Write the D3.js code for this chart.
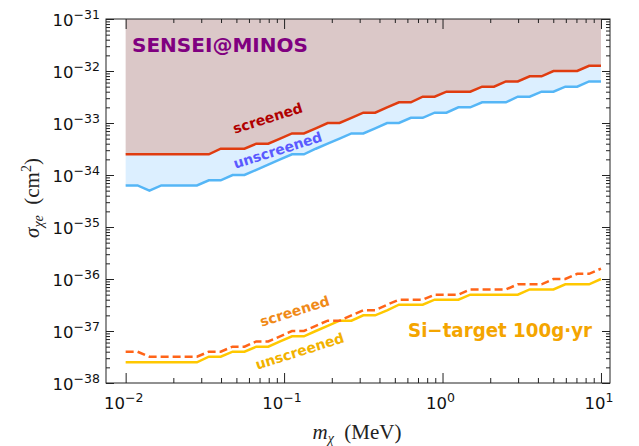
<!DOCTYPE html>
<html>
<head>
<meta charset="utf-8">
<script src="https://cdn.jsdelivr.net/npm/d3@7/dist/d3.min.js"></script>
<style>
body { margin: 0; background: #fff; }
text { font-family: "DejaVu Sans", Verdana, sans-serif; }
.serif { font-family: "Liberation Serif", "Times New Roman", serif; }
</style>
</head>
<body>
<svg width="639" height="446"></svg>
<script>
// dark matter mass (MeV)
var mass = [0.01, 0.01189, 0.01413, 0.01679, 0.01995, 0.02371, 0.02818, 0.0335, 0.03981, 0.04732,
  0.05623, 0.06683, 0.07943, 0.09441, 0.1122, 0.1334, 0.1585, 0.1884, 0.2239, 0.2661,
  0.3162, 0.3758, 0.4467, 0.5309, 0.631, 0.7499, 0.8913, 1.059, 1.259, 1.496,
  1.778, 2.113, 2.512, 2.985, 3.548, 4.217, 5.012, 5.957, 7.079, 8.414, 10];

// SENSEI@MINOS limits (cm^2)
var minosScreened = [2.5e-34, 2.5e-34, 2.5e-34, 2.5e-34, 2.5e-34, 2.5e-34, 2.5e-34, 2.5e-34, 3.2e-34, 3.2e-34,
  3.2e-34, 4.0e-34, 4.0e-34, 5.0e-34, 6.3e-34, 6.3e-34, 7.9e-34, 1.0e-33, 1.0e-33, 1.26e-33,
  1.58e-33, 1.58e-33, 2.0e-33, 2.5e-33, 2.5e-33, 3.2e-33, 3.2e-33, 4.0e-33, 4.0e-33, 4.0e-33,
  5.0e-33, 5.0e-33, 6.3e-33, 6.3e-33, 7.9e-33, 7.9e-33, 1.0e-32, 1.0e-32, 1.0e-32, 1.26e-32, 1.26e-32];
var minosUnscreened = [6.3e-35, 6.3e-35, 5.0e-35, 6.3e-35, 6.3e-35, 6.3e-35, 6.3e-35, 7.9e-35, 7.9e-35, 1.0e-34,
  1.0e-34, 1.26e-34, 1.58e-34, 2.0e-34, 2.5e-34, 2.5e-34, 3.2e-34, 4.0e-34, 5.0e-34, 6.3e-34,
  6.3e-34, 7.9e-34, 1.0e-33, 1.0e-33, 1.26e-33, 1.26e-33, 1.58e-33, 1.58e-33, 2.0e-33, 2.0e-33,
  2.5e-33, 2.5e-33, 2.5e-33, 3.2e-33, 3.2e-33, 4.0e-33, 4.0e-33, 5.0e-33, 5.0e-33, 6.3e-33, 6.3e-33];

// Si target 100 g yr projections (cm^2)
var siScreened = [4.0e-38, 4.0e-38, 3.2e-38, 3.2e-38, 3.2e-38, 3.2e-38, 3.2e-38, 4.0e-38, 4.0e-38, 5.0e-38,
  5.0e-38, 6.3e-38, 6.3e-38, 7.9e-38, 1.0e-37, 1.0e-37, 1.26e-37, 1.58e-37, 1.58e-37, 2.0e-37,
  2.5e-37, 2.5e-37, 3.2e-37, 4.0e-37, 4.0e-37, 4.0e-37, 5.0e-37, 5.0e-37, 5.0e-37, 6.3e-37,
  6.3e-37, 6.3e-37, 6.3e-37, 7.9e-37, 7.9e-37, 7.9e-37, 1.0e-36, 1.0e-36, 1.26e-36, 1.26e-36, 1.58e-36];
var siUnscreened = [2.5e-38, 2.5e-38, 2.5e-38, 2.5e-38, 2.5e-38, 2.5e-38, 2.5e-38, 3.2e-38, 3.2e-38, 4.0e-38,
  4.0e-38, 5.0e-38, 5.0e-38, 6.3e-38, 7.9e-38, 7.9e-38, 1.0e-37, 1.26e-37, 1.58e-37, 1.58e-37,
  2.0e-37, 2.0e-37, 2.5e-37, 3.2e-37, 3.2e-37, 3.2e-37, 4.0e-37, 4.0e-37, 4.0e-37, 5.0e-37,
  5.0e-37, 5.0e-37, 5.0e-37, 5.0e-37, 6.3e-37, 6.3e-37, 6.3e-37, 7.9e-37, 7.9e-37, 7.9e-37, 1.0e-36];

var xTickPowers = [-2, -1, 0, 1];
var yTickPowers = [-31, -32, -33, -34, -35, -36, -37, -38];

var svg = d3.select("svg");
var pLeft = 106, pRight = 610, pTop = 19, pBottom = 383;

var x = d3.scaleLog().domain([Math.pow(10, -2.124), Math.pow(10, 1.057)]).range([pLeft, pRight]);
var y = d3.scaleLog().domain([1e-38, 1e-31]).range([pBottom, pTop]);

var rows = mass.map(function(m, i) {
  return { m: m, ms: minosScreened[i], mu: minosUnscreened[i], ss: siScreened[i], su: siUnscreened[i] };
});

// ========== FILLS ============= //

svg.append("path")
    .datum(rows)
    .attr("fill", "#dcefff")
    .attr("d", d3.area()
      .x(function(d) { return x(d.m); })
      .y0(function(d) { return y(d.mu); })
      .y1(function(d) { return y(d.ms); }));

svg.append("path")
    .datum(rows)
    .attr("fill", "#dbc8c8")
    .attr("d", d3.area()
      .x(function(d) { return x(d.m); })
      .y0(function(d) { return y(d.ms); })
      .y1(function() { return y(1e-31); }));

// ========== LINES ============= //

function line(key) {
  return d3.line()
    .x(function(d) { return x(d.m); })
    .y(function(d) { return y(d[key]); });
}

svg.append("path").datum(rows)
    .attr("fill", "none").attr("stroke", "#55b6f6").attr("stroke-width", 2.5)
    .attr("d", line("mu"));
svg.append("path").datum(rows)
    .attr("fill", "none").attr("stroke", "#e03c10").attr("stroke-width", 2.5)
    .attr("d", line("ms"));
svg.append("path").datum(rows)
    .attr("fill", "none").attr("stroke", "#ffc800").attr("stroke-width", 2.5)
    .attr("d", line("su"));
svg.append("path").datum(rows)
    .attr("fill", "none").attr("stroke", "#ff6418").attr("stroke-width", 2.5)
    .attr("stroke-dasharray", "8,4")
    .attr("d", line("ss"));

// ========== AXES ============= //

var xMajor = xTickPowers.map(function(p) { return Math.pow(10, p); });
var yMajor = yTickPowers.map(function(p) { return Math.pow(10, p); });
var xMinor = [], yMinor = [];
[-2, -1, 0].forEach(function(p) {
  d3.range(2, 10).forEach(function(k) { xMinor.push(k * Math.pow(10, p)); });
});
d3.range(-38, -31).forEach(function(p) {
  d3.range(2, 10).forEach(function(k) { yMinor.push(k * Math.pow(10, p)); });
});

function ticks(axis, vals, size, tx, ty) {
  svg.append("g")
      .attr("transform", "translate(" + tx + "," + ty + ")")
      .call(axis.tickValues(vals).tickSizeInner(size).tickSizeOuter(0).tickFormat(""))
      .call(function(g) { g.select(".domain").remove(); })
      .selectAll("line").attr("stroke", "#222");
}

ticks(d3.axisBottom(x), xMajor, -10, 0, pBottom);
ticks(d3.axisBottom(x), xMinor, -5, 0, pBottom);
ticks(d3.axisTop(x), xMajor, -10, 0, pTop);
ticks(d3.axisTop(x), xMinor, -4, 0, pTop);
ticks(d3.axisLeft(y), yMajor, -8, pLeft, 0);
ticks(d3.axisLeft(y), yMinor, -4, pLeft, 0);
ticks(d3.axisRight(y), yMajor, -8, pRight, 0);
ticks(d3.axisRight(y), yMinor, -4, pRight, 0);

svg.append("rect")
    .attr("x", pLeft).attr("y", pTop)
    .attr("width", pRight - pLeft).attr("height", pBottom - pTop)
    .attr("fill", "none").attr("stroke", "#222").attr("stroke-width", 1);

// tick labels
function power(sel, p) {
  sel.append("tspan").text("10");
  sel.append("tspan")
      .attr("dy", -7).attr("font-size", 12.5)
      .text(p < 0 ? "\u2212" + (-p) : p);
}

xTickPowers.forEach(function(p) {
  svg.append("text")
      .attr("x", x(Math.pow(10, p)) - 2).attr("y", 409)
      .attr("text-anchor", "middle").attr("font-size", 16.5).attr("fill", "#111")
      .call(power, p);
});

yTickPowers.forEach(function(p) {
  svg.append("text")
      .attr("x", 100).attr("y", y(Math.pow(10, p)) + 7)
      .attr("text-anchor", "end").attr("font-size", 16.5).attr("fill", "#111")
      .call(power, p);
});

// axis titles
var xt = svg.append("text").attr("class", "serif")
    .attr("x", 357).attr("y", 439).attr("text-anchor", "middle")
    .attr("font-size", 21).attr("fill", "#222");
xt.append("tspan").attr("font-style", "italic").text("m");
xt.append("tspan").attr("font-style", "italic").attr("font-size", 14).attr("dy", 4).text("\u03c7");
xt.append("tspan").attr("dy", -4).text("\u2002(MeV)");

var yt = svg.append("text").attr("class", "serif")
    .attr("transform", "translate(39,198) rotate(-90)").attr("text-anchor", "middle")
    .attr("font-size", 21).attr("fill", "#222");
yt.append("tspan").attr("font-style", "italic").text("\u03c3");
yt.append("tspan").attr("font-style", "italic").attr("font-size", 14).attr("dy", 4).text("\u03c7e");
yt.append("tspan").attr("dy", -4).text("\u2002(cm");
yt.append("tspan").attr("font-size", 14).attr("dy", -8).text("2");
yt.append("tspan").attr("dy", 8).text(")");

// ========== TEXT ============= //

svg.append("text")
    .attr("x", 132).attr("y", 52)
    .attr("font-size", 19.5).attr("font-weight", "bold").attr("fill", "#800080")
    .attr("textLength", 176).attr("lengthAdjust", "spacingAndGlyphs")
    .text("SENSEI@MINOS");

svg.append("text")
    .attr("x", 408).attr("y", 337)
    .attr("font-size", 20).attr("font-weight", "bold").attr("fill", "#f4a500")
    .attr("textLength", 184).attr("lengthAdjust", "spacingAndGlyphs")
    .text("Si\u2212target 100g\u00b7yr");

var curveLabels = [
  { t: "screened", cx: 268, cy: 119, c: "#b00000" },
  { t: "unscreened", cx: 278, cy: 151, c: "#5a5aff" },
  { t: "screened", cx: 295, cy: 312, c: "#f08a18" },
  { t: "unscreened", cx: 300, cy: 352, c: "#f2b200" }
];

svg.selectAll(".clabel")
    .data(curveLabels)
    .enter()
  .append("text")
    .attr("class", "clabel")
    .attr("transform", function(d) { return "translate(" + d.cx + "," + d.cy + ") rotate(-17.5)"; })
    .attr("text-anchor", "middle")
    .attr("dominant-baseline", "middle")
    .attr("font-size", 14).attr("font-weight", "bold")
    .attr("fill", function(d) { return d.c; })
    .text(function(d) { return d.t; });
</script>
</body>
</html>
